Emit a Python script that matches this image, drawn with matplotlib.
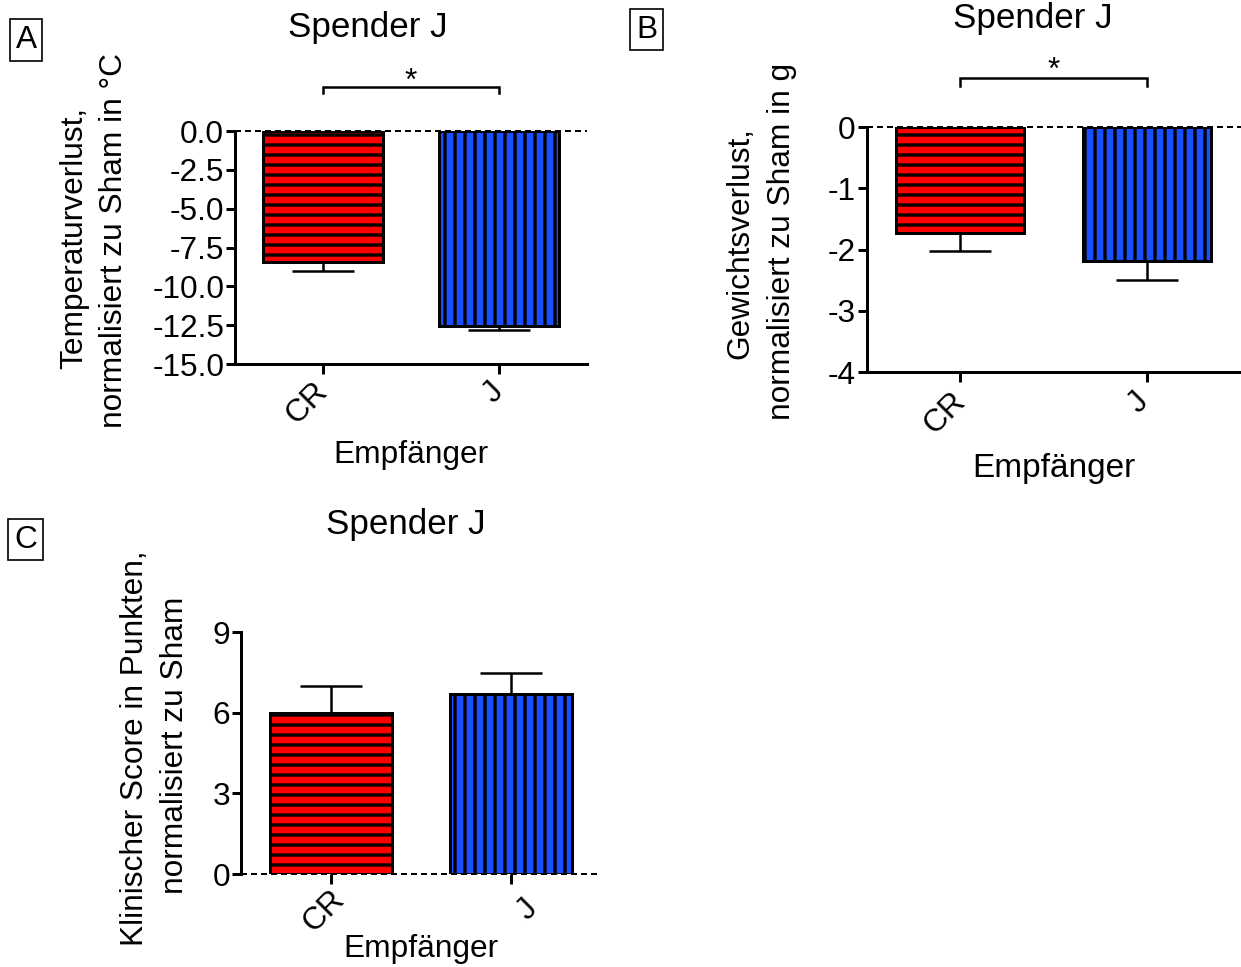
import matplotlib
matplotlib.use("Agg")
import matplotlib.pyplot as plt
import matplotlib.transforms as mtransforms

plt.rcParams['font.family'] = ['Liberation Sans', 'DejaVu Sans']
plt.rcParams['axes.unicode_minus'] = False
plt.rcParams['hatch.linewidth'] = 2.0
plt.rcParams['hatch.color'] = 'black'

DPI = 120
W, H = 1241, 967

# ---- data -------------------------------------------------------------
groups = ['CR', 'J']

temp_mean = [-8.43, -12.55]
temp_sem = [0.58, 0.26]
temp_ticks = [0.0, -2.5, -5.0, -7.5, -10.0, -12.5, -15.0]
temp_ticklabels = ['0.0', '-2.5', '-5.0', '-7.5', '-10.0', '-12.5', '-15.0']

weight_mean = [-1.73, -2.19]
weight_sem = [0.30, 0.31]
weight_ticks = [0, -1, -2, -3, -4]
weight_ticklabels = ['0', '-1', '-2', '-3', '-4']

score_mean = [6.0, 6.7]
score_sem = [0.98, 0.77]
score_ticks = [0, 3, 6, 9]
score_ticklabels = ['0', '3', '6', '9']

bar_colors = ['#FF0000', '#1A4FFF']
bar_hatches = ['--', '||']

FS = 19
TITLE_FS = 21
LW = 1.8


def fx(x):
    return x / W


def fy(y):
    return 1 - y / H


fig = plt.figure(figsize=(W / DPI, H / DPI), dpi=DPI)


def draw_panel(rect, means, sems, ylim, yticks, yticklabels, label_offsets,
               xlabel_y, hide_bottom=False, xlabel_fs=FS):
    ax = fig.add_axes(rect)
    x = list(range(len(groups)))
    bars = ax.bar(x, means, width=0.68, color=bar_colors, edgecolor='black',
                  linewidth=LW, zorder=2)
    for patch, h in zip(bars.patches, bar_hatches):
        patch.set_hatch(h)
    lower = [s if m < 0 else 0 for m, s in zip(means, sems)]
    upper = [s if m >= 0 else 0 for m, s in zip(means, sems)]
    ax.errorbar(x, means, yerr=[lower, upper], fmt='none', ecolor='black',
                elinewidth=1.5, capsize=18.6, capthick=1.5, zorder=1)
    ax.axhline(0, color='black', lw=1.2, ls=(0, (3, 2)), zorder=3,
               clip_on=False)
    ax.set_xlim(-0.5, 1.5)
    ax.set_ylim(*ylim)
    ax.set_yticks(yticks)
    ax.set_yticklabels(yticklabels)
    ax.set_xticks(x)
    ax.set_xticklabels(groups, rotation=45, ha='right', va='center',
                       rotation_mode='anchor')
    for sp in ['top', 'right']:
        ax.spines[sp].set_visible(False)
    if hide_bottom:
        ax.spines['bottom'].set_visible(False)
    for sp in ax.spines.values():
        sp.set_linewidth(LW)
    ax.tick_params(axis='y', length=5.5, width=LW, labelsize=FS, pad=1)
    ax.tick_params(axis='x', length=6, width=LW, labelsize=FS, pad=7.8)
    for lab, (dx, dy) in zip(ax.get_xticklabels(), label_offsets):
        off = mtransforms.ScaledTranslation(dx / DPI, -dy / DPI,
                                            fig.dpi_scale_trans)
        lab.set_transform(lab.get_transform() + off)
    ax.set_xlabel('Empfänger', fontsize=xlabel_fs)
    ax.xaxis.label.set_va('baseline')
    ax.xaxis.set_label_coords(0.5, xlabel_y)
    ax.patch.set_visible(False)
    return ax


# Panel A: temperature
axA = draw_panel([fx(235), fy(364), 352 / W, 233 / H], temp_mean, temp_sem,
                 (-15, 0), temp_ticks, temp_ticklabels,
                 [(0, 0), (0, 0)], (364 - 463) / 233)
# Panel B: weight
axB = draw_panel([fx(866.5), fy(372), 374 / W, 245 / H], weight_mean,
                 weight_sem, (-4, 0), weight_ticks, weight_ticklabels,
                 [(1, 2), (-3, 2)], (372 - 477) / 245, xlabel_fs=20)
# Panel C: clinical score
axC = draw_panel([fx(241), fy(874), 360 / W, 242 / H], score_mean, score_sem,
                 (0, 9), score_ticks, score_ticklabels,
                 [(9, -2), (22, 7)], (874 - 957) / 242, hide_bottom=True)


def bracket(ax, y, drop, star_y):
    ax.plot([0, 0, 1, 1], [drop, y, y, drop], color='black', lw=1.5,
            clip_on=False, solid_joinstyle='miter')
    ax.text(0.5, star_y, '*', ha='center', va='baseline', fontsize=FS,
            clip_on=False)


bracket(axA, 2.83, 2.45, 2.64)
bracket(axB, 0.80, 0.67, 0.784)

# Titles
for (tx, ty) in [(368, 37), (1033, 28), (406, 534)]:
    fig.text(fx(tx), fy(ty), 'Spender J', ha='center', va='baseline',
             fontsize=TITLE_FS)

# Y axis labels, one text per line
ylabel_lines = [
    ('Temperaturverlust,', 82, 237.5),
    ('normalisiert zu Sham in °C', 122, 240),
    ('Gewichtsverlust,', 748, 243),
    ('normalisiert zu Sham in g', 790, 241.5),
    ('Klinischer Score in Punkten,', 143, 748),
    ('normalisiert zu Sham', 183, 745),
]
for txt, bx, cy in ylabel_lines:
    fig.text(fx(bx), fy(cy), txt, rotation=90, rotation_mode='anchor',
             ha='center', va='baseline', fontsize=FS)

# Panel letters
for letter, lx, ly in [('A', 26, 40), ('B', 646.5, 29.5), ('C', 25.5, 539.5)]:
    fig.text(fx(lx), fy(ly), letter, ha='center', va='center', fontsize=19,
             bbox=dict(boxstyle='square,pad=0.18', fc='none', ec='black',
                       lw=1.0))

fig.savefig('out.png', dpi=DPI)
